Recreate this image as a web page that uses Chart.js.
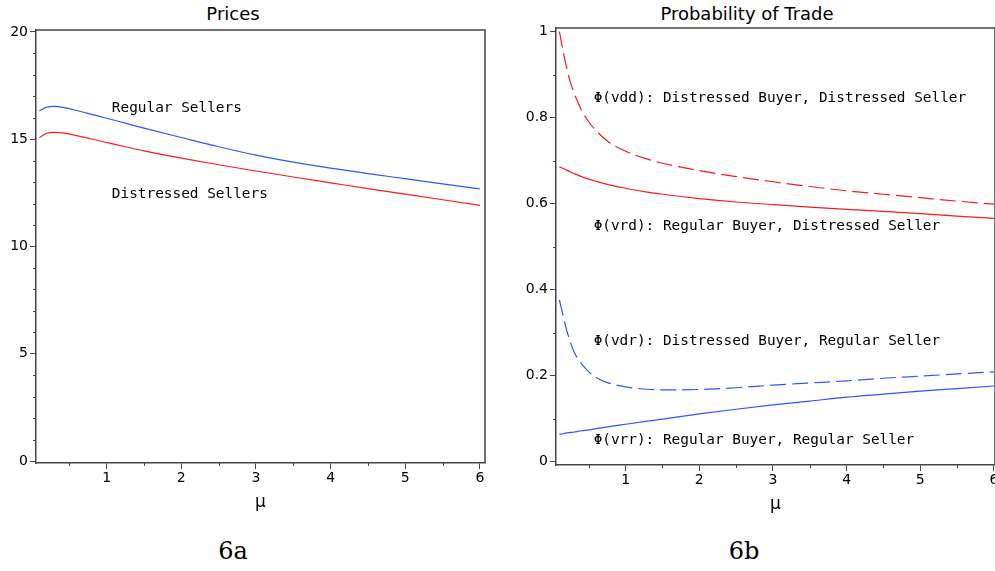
<!DOCTYPE html>
<html>
<head>
<meta charset="utf-8">
<script src="https://cdn.jsdelivr.net/npm/chart.js@4.4.0/dist/chart.umd.min.js"></script>
<style>
  html, body { margin: 0; padding: 0; background: #fff; overflow: hidden; width: 995px; height: 571px; }
  .box { position: absolute; top: 0; height: 520px; }
  .title { position: absolute; top: 3px; font-family: 'DejaVu Sans'; font-size: 18px; color: #000; transform: translateX(-50%); white-space: nowrap; }
  .cap { position: absolute; top: 537px; font-family: 'DejaVu Serif'; font-size: 24px; color: #000; transform: translateX(-50%); }
</style>
</head>
<body>
<div class="title" style="left:233px">Prices</div>
<div class="title" style="left:747px">Probability of Trade</div>
<div class="box" style="left:0; width:500px"><canvas id="prices"></canvas></div>
<div class="box" style="left:500px; width:510px"><canvas id="trade"></canvas></div>
<div class="cap" style="left:233px">6a</div>
<div class="cap" style="left:744px">6b</div>
<script>
// Fig 6a: prices vs mu
const muPrices = [0.1, 0.2, 0.3, 0.45, 0.6, 0.8, 1, 1.25, 1.5, 2, 2.5, 3, 3.5, 4, 4.5, 5, 5.5, 6];
const regularSellers    = [16.32, 16.50, 16.53, 16.46, 16.34, 16.16, 15.98, 15.75, 15.52, 15.08, 14.65, 14.26, 13.93, 13.65, 13.40, 13.16, 12.92, 12.68];
const distressedSellers = [15.08, 15.28, 15.32, 15.27, 15.17, 15.01, 14.85, 14.65, 14.46, 14.12, 13.81, 13.52, 13.24, 12.97, 12.70, 12.44, 12.18, 11.92];

// Fig 6b: probability of trade vs mu
const muTrade = [0.1, 0.15, 0.2, 0.25, 0.3, 0.4, 0.5, 0.6, 0.75, 1, 1.25, 1.5, 2, 2.5, 3, 3.5, 4, 4.5, 5, 5.5, 6];
const phiVdd = [1.000, 0.955, 0.915, 0.882, 0.857, 0.818, 0.790, 0.770, 0.746, 0.722, 0.706, 0.694, 0.677, 0.663, 0.651, 0.640, 0.630, 0.622, 0.614, 0.606, 0.599];
const phiVrd = [0.686, 0.682, 0.678, 0.674, 0.670, 0.663, 0.657, 0.652, 0.645, 0.636, 0.628, 0.622, 0.612, 0.604, 0.598, 0.592, 0.587, 0.582, 0.577, 0.571, 0.566];
const phiVdr = [0.376, 0.340, 0.305, 0.278, 0.255, 0.228, 0.209, 0.196, 0.184, 0.174, 0.169, 0.167, 0.168, 0.172, 0.178, 0.183, 0.188, 0.194, 0.199, 0.204, 0.209];
const phiVrr = [0.064, 0.065, 0.067, 0.068, 0.069, 0.072, 0.074, 0.077, 0.081, 0.087, 0.093, 0.099, 0.111, 0.122, 0.132, 0.141, 0.150, 0.157, 0.164, 0.170, 0.176];

const muTicks = [1, 2, 3, 4, 5, 6];
const priceTicks = [0, 5, 10, 15, 20];
const tradeTicks = [0, 0.2, 0.4, 0.6, 0.8, 1];

const RED = '#ff1a1a';
const BLUE = '#2f55ff';
const AXIS = '#444';

const pts = (xs, ys) => xs.map((x, i) => ({x: x, y: ys[i]}));

// box frame, minor ticks and in-plot text labels
const extras = {
  id: 'extras',
  afterDraw(chart, args, opts) {
    const {ctx, chartArea: a, scales: {x, y}} = chart;
    ctx.save();
    ctx.strokeStyle = AXIS;
    ctx.lineWidth = 1.5;
    ctx.beginPath();
    ctx.moveTo(a.left, a.top);
    ctx.lineTo(a.right, a.top);
    ctx.lineTo(a.right, a.bottom);
    ctx.stroke();

    ctx.lineWidth = 1;
    ctx.beginPath();
    for (let v = opts.xStep; v < x.max; v += opts.xStep * 2) {
      const px = Math.round(x.getPixelForValue(v)) + 0.5;
      ctx.moveTo(px, a.bottom);
      ctx.lineTo(px, a.bottom + 3);
    }
    for (let v = opts.yStep; v < y.max; v += opts.yStep) {
      if (Math.abs(v / opts.yMajor - Math.round(v / opts.yMajor)) < 1e-6) continue;
      const py = Math.round(y.getPixelForValue(v)) + 0.5;
      ctx.moveTo(a.left - 3, py);
      ctx.lineTo(a.left, py);
    }
    ctx.stroke();

    ctx.fillStyle = '#000';
    ctx.font = '14.4px "DejaVu Sans Mono"';
    ctx.textBaseline = 'middle';
    ctx.textAlign = 'left';
    opts.labels.forEach(l => {
      ctx.fillText(l.text, x.getPixelForValue(l.x), y.getPixelForValue(l.y));
    });
    ctx.restore();
  }
};

function axes(xRange, yRange, yTicks, yWidth) {
  return {
    x: {
      type: 'linear',
      min: xRange[0], max: xRange[1],
      afterBuildTicks: s => { s.ticks = muTicks.map(v => ({value: v})); },
      afterFit: s => { s.height = 50; },
      grid: {drawOnChartArea: false, drawTicks: true, tickLength: 6, tickColor: AXIS},
      border: {display: true, color: AXIS, width: 1.5},
      ticks: {color: '#000', font: {family: 'DejaVu Sans', size: 14}, padding: 1, maxRotation: 0},
      title: {display: true, text: 'μ', color: '#000', font: {family: 'DejaVu Sans', size: 17}, padding: 0}
    },
    y: {
      type: 'linear',
      min: yRange[0], max: yRange[1],
      afterBuildTicks: s => { s.ticks = yTicks.map(v => ({value: v})); },
      afterFit: s => { s.width = yWidth; },
      grid: {drawOnChartArea: false, drawTicks: true, tickLength: 6, tickColor: AXIS},
      border: {display: true, color: AXIS, width: 1.5},
      ticks: {color: '#000', font: {family: 'DejaVu Sans', size: 14}, padding: 2,
              callback: v => String(+v.toFixed(2))}
    }
  };
}

const lineStyle = {pointRadius: 0, borderWidth: 1.2, fill: false, cubicInterpolationMode: 'monotone'};

new Chart(document.getElementById('prices'), {
  type: 'line',
  data: {
    datasets: [
      Object.assign({label: 'Regular Sellers', data: pts(muPrices, regularSellers), borderColor: BLUE}, lineStyle),
      Object.assign({label: 'Distressed Sellers', data: pts(muPrices, distressedSellers), borderColor: RED}, lineStyle)
    ]
  },
  options: {
    responsive: true,
    maintainAspectRatio: false,
    animation: false,
    layout: {padding: {left: 0, top: 30, right: 15, bottom: 7}},
    plugins: {
      legend: {display: false},
      tooltip: {enabled: false},
      extras: {
        xStep: 0.5, yStep: 1, yMajor: 5,
        labels: [
          {text: 'Regular Sellers', x: 1.07, y: 16.45},
          {text: 'Distressed Sellers', x: 1.07, y: 12.45}
        ]
      }
    },
    scales: axes([0.054, 6.067], [-0.093, 20.093], priceTicks, 36)
  },
  plugins: [extras]
});

new Chart(document.getElementById('trade'), {
  type: 'line',
  data: {
    datasets: [
      Object.assign({label: 'Φ(vdd)', data: pts(muTrade, phiVdd), borderColor: RED, borderDash: [16, 6]}, lineStyle),
      Object.assign({label: 'Φ(vrd)', data: pts(muTrade, phiVrd), borderColor: RED}, lineStyle),
      Object.assign({label: 'Φ(vdr)', data: pts(muTrade, phiVdr), borderColor: BLUE, borderDash: [16, 6]}, lineStyle),
      Object.assign({label: 'Φ(vrr)', data: pts(muTrade, phiVrr), borderColor: BLUE}, lineStyle)
    ]
  },
  options: {
    responsive: true,
    maintainAspectRatio: false,
    animation: false,
    layout: {padding: {left: 0, top: 28, right: 15, bottom: 5}},
    plugins: {
      legend: {display: false},
      tooltip: {enabled: false},
      extras: {
        xStep: 0.5, yStep: 0.1, yMajor: 0.2,
        labels: [
          {text: 'Φ(vdd): Distressed Buyer, Distressed Seller', x: 0.565, y: 0.845},
          {text: 'Φ(vrd): Regular Buyer, Distressed Seller', x: 0.565, y: 0.547},
          {text: 'Φ(vdr): Distressed Buyer, Regular Seller', x: 0.565, y: 0.281},
          {text: 'Φ(vrr): Regular Buyer, Regular Seller', x: 0.565, y: 0.049}
        ]
      }
    },
    scales: axes([0.054, 6.015], [-0.0077, 1.0086], tradeTicks, 56)
  },
  plugins: [extras]
});
</script>
</body>
</html>
